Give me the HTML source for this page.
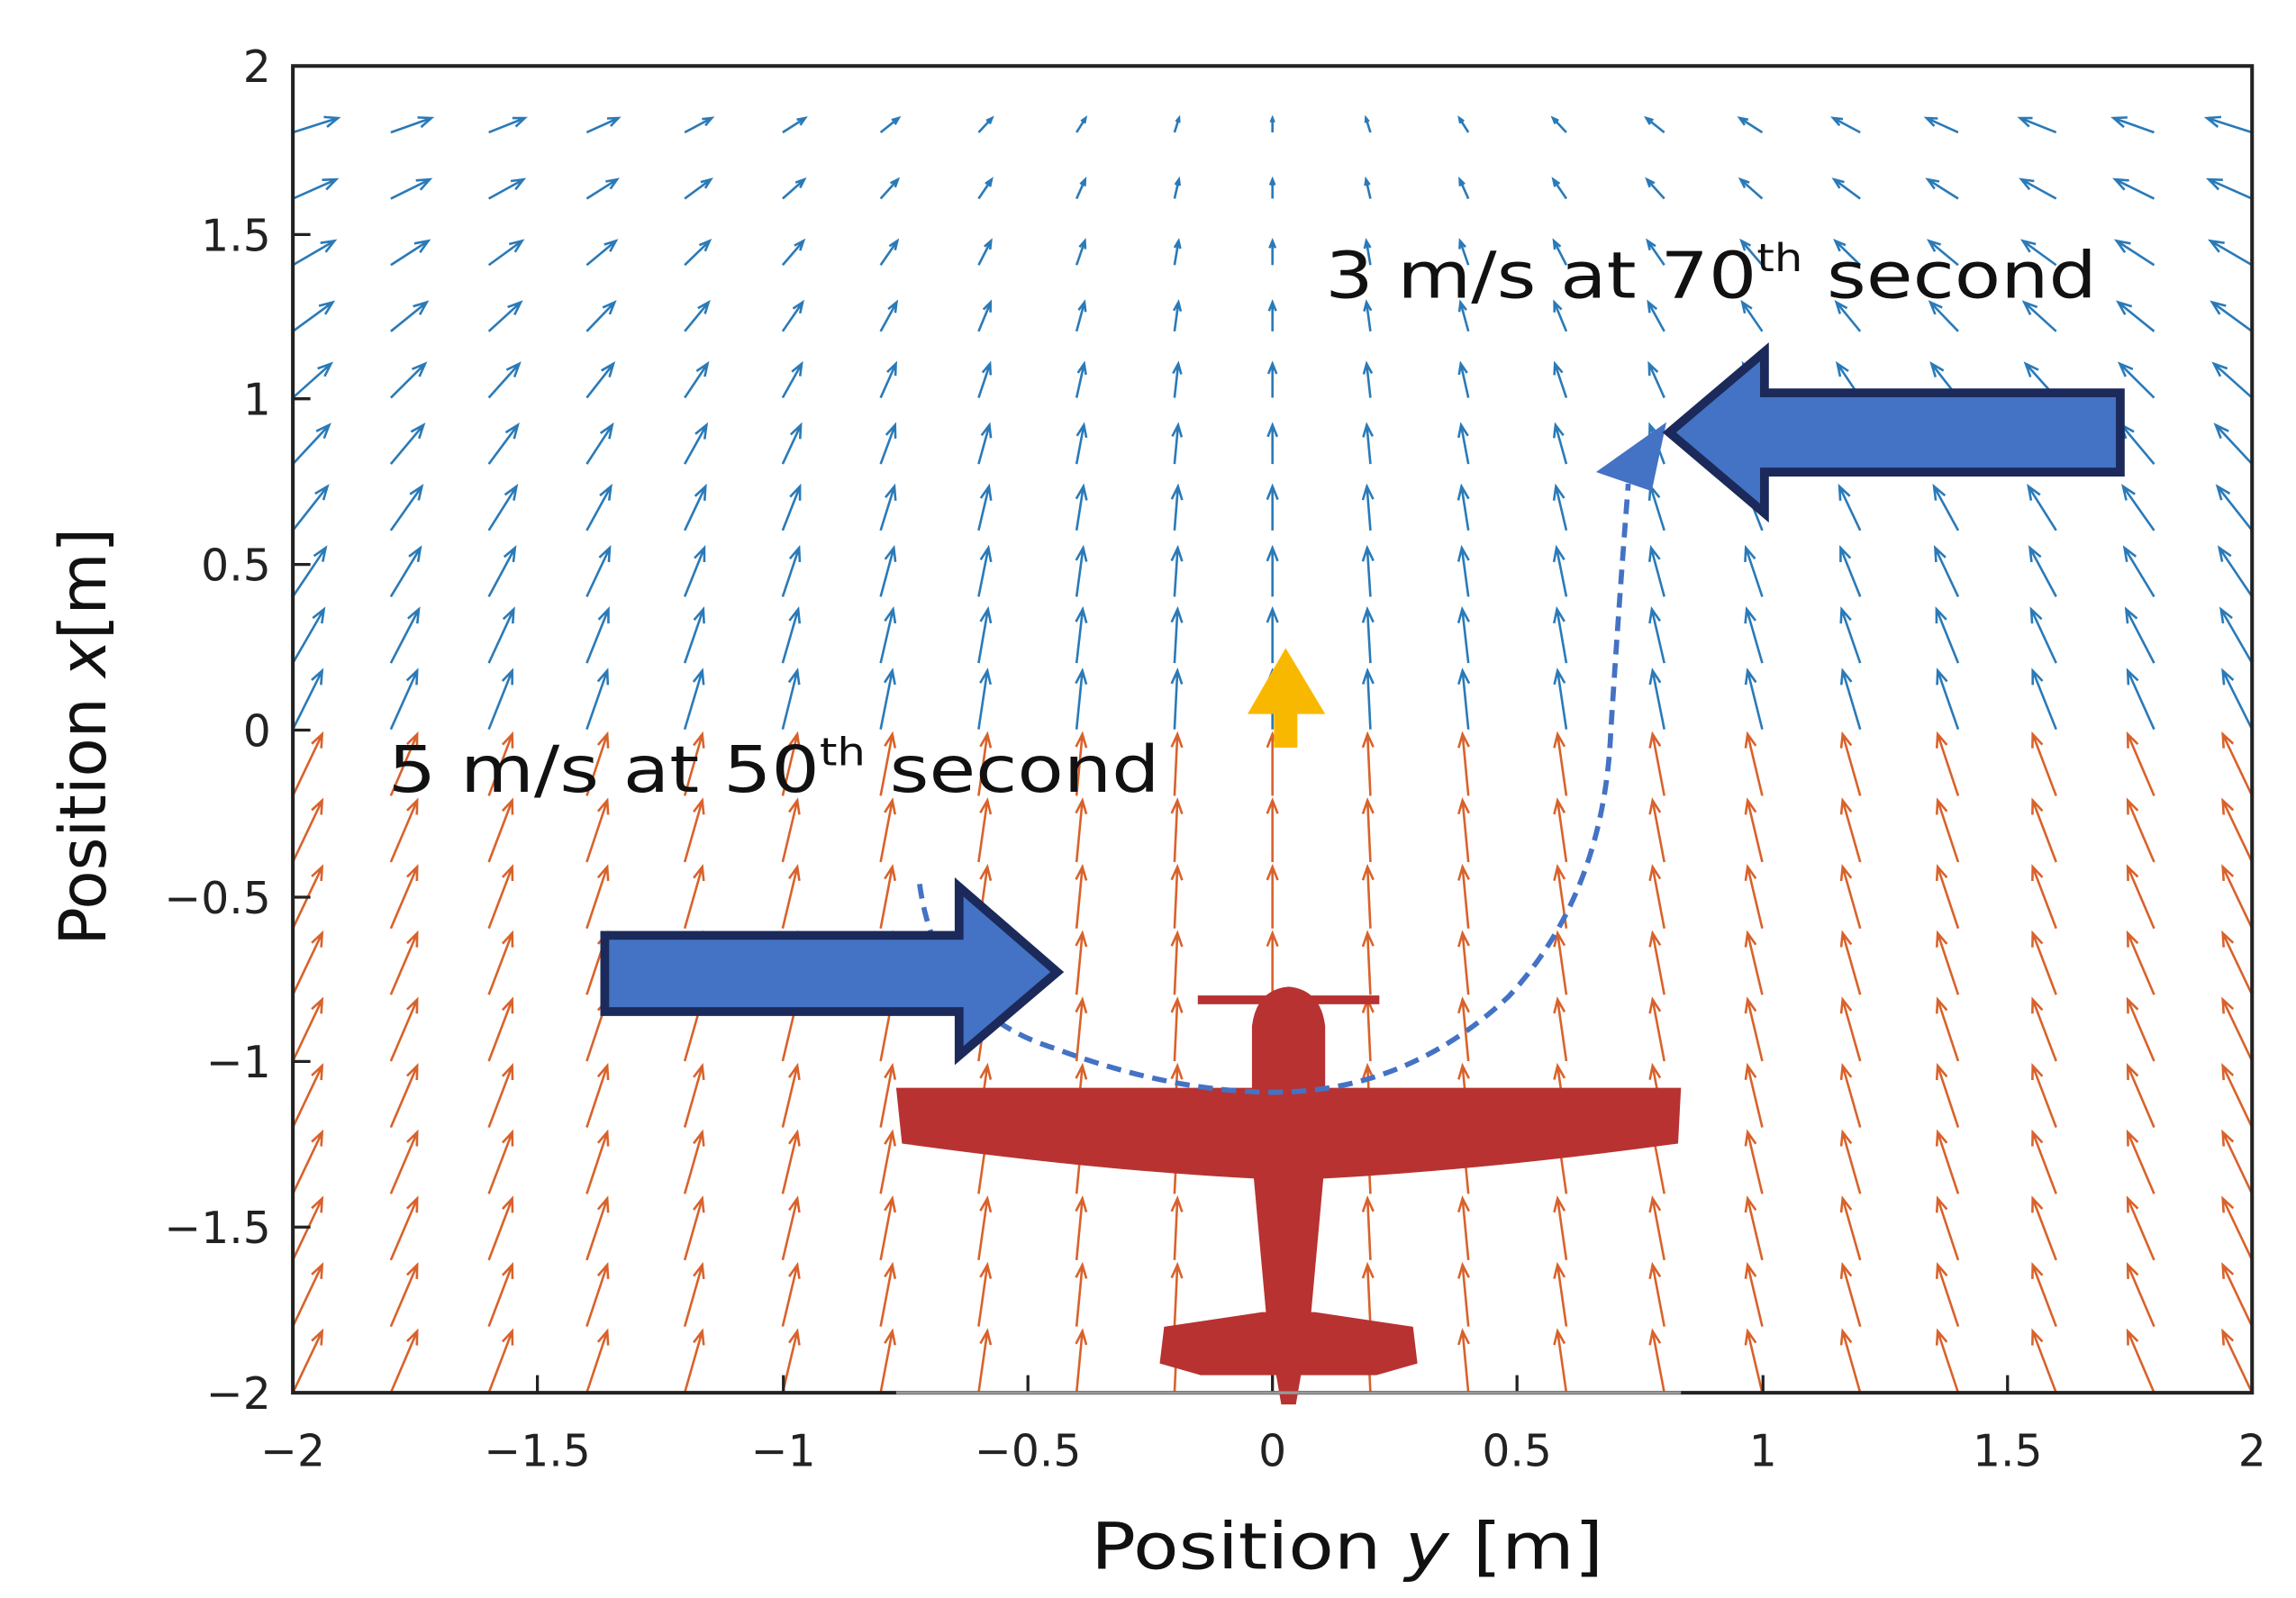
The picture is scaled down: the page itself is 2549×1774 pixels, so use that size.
<!DOCTYPE html>
<html><head><meta charset="utf-8"><style>
html,body{margin:0;padding:0;background:#fff;}
svg{display:block;}
text{font-family:"DejaVu Sans","Liberation Sans",sans-serif;}
</style></head><body>
<svg id="s" width="2549" height="1774" viewBox="0 0 1568 1090" preserveAspectRatio="none" xmlns="http://www.w3.org/2000/svg">
<rect width="1568" height="1090" fill="#fff"/>
<g id="q"></g>
<rect x="200" y="45" width="1338" height="905" fill="none" stroke="#222" stroke-width="2.5"/>
<g stroke="#222" stroke-width="2">
<line x1="200" y1="160" x2="212" y2="160"/><line x1="200" y1="272" x2="212" y2="272"/><line x1="200" y1="385" x2="212" y2="385"/><line x1="200" y1="498" x2="212" y2="498"/><line x1="200" y1="612" x2="212" y2="612"/><line x1="200" y1="724" x2="212" y2="724"/><line x1="200" y1="837" x2="212" y2="837"/>
<line x1="367" y1="950" x2="367" y2="938"/><line x1="535" y1="950" x2="535" y2="938"/><line x1="702" y1="950" x2="702" y2="938"/><line x1="869" y1="950" x2="869" y2="938"/><line x1="1036" y1="950" x2="1036" y2="938"/><line x1="1204" y1="950" x2="1204" y2="938"/><line x1="1371" y1="950" x2="1371" y2="938"/>
</g>
<g font-size="30" fill="#222" text-anchor="end" style="font-family:'Liberation Sans',sans-serif">
<text x="185" y="56">2</text><text x="185" y="171">1.5</text><text x="185" y="283">1</text><text x="185" y="396">0.5</text><text x="185" y="509">0</text><text x="185" y="623">−0.5</text><text x="185" y="735">−1</text><text x="185" y="848">−1.5</text><text x="185" y="961">−2</text>
</g>
<g font-size="30" fill="#222" text-anchor="middle" style="font-family:'Liberation Sans',sans-serif">
<text x="200" y="1000">−2</text><text x="367" y="1000">−1.5</text><text x="535" y="1000">−1</text><text x="702" y="1000">−0.5</text><text x="869" y="1000">0</text><text x="1036" y="1000">0.5</text><text x="1204" y="1000">1</text><text x="1371" y="1000">1.5</text><text x="1538" y="1000">2</text>
</g>
<text x="745" y="1070" font-size="44" fill="#111" textLength="350" lengthAdjust="spacingAndGlyphs">Position <tspan font-style="italic">y</tspan> [m]</text>
<text transform="translate(72,645) rotate(-90)" font-size="44" fill="#111" textLength="285" lengthAdjust="spacingAndGlyphs">Position <tspan font-style="italic">x</tspan>[m]</text>
<text x="905" y="203" font-size="44" fill="#111" textLength="527" lengthAdjust="spacingAndGlyphs">3 m/s at 70<tspan font-size="26" dy="-18">th</tspan><tspan dy="18"> second</tspan></text>
<text x="265" y="540" font-size="44" fill="#111" textLength="527" lengthAdjust="spacingAndGlyphs">5 m/s at 50<tspan font-size="26" dy="-18">th</tspan><tspan dy="18"> second</tspan></text>
<g fill="#b83232">
<rect x="818" y="679" width="124" height="6"/>
<path d="M855,700 Q858,675 880,673 Q902,675 905,700 L905,745 L855,745 Z"/>
<path d="M612,742 L1148,742 L1146,780 Q1000,800 880,805 Q760,800 616,780 Z"/>
<path d="M855,790 L905,790 L895,900 L885,958 L875,958 L865,900 Z"/>
<path d="M795,905 L862,895 L898,895 L965,905 L968,930 L940,938 L820,938 L792,930 Z"/>
</g>
<line x1="612" y1="950" x2="1148" y2="950" stroke="#999" stroke-width="2"/>
<path d="M878,442 L905,487 L886,487 L886,510 L870,510 L870,487 L852,487 Z" fill="#f9b800"/>
<path d="M628,603 Q640,690 720,715 Q800,745 870,745 Q960,745 1030,680 Q1095,610 1100,500 Q1105,420 1112,330" fill="none" stroke="#4472c4" stroke-width="3.5" stroke-dasharray="10,6"/>
<path d="M1090,322 L1138,288 L1128,335 Z" fill="#4472c4"/>
<path d="M413,638 L655,638 L655,605 L722,663 L655,720 L655,690 L413,690 Z" fill="#4472c4" stroke="#1b2a5a" stroke-width="6" stroke-linejoin="miter"/>
<path d="M1140,295 L1205,240 L1205,268 L1448,268 L1448,322 L1205,322 L1205,350 Z" fill="#4472c4" stroke="#1b2a5a" stroke-width="6" stroke-linejoin="miter"/>
</svg>
<script>
(function(){
var g=document.getElementById('q'),h='';
for(var i=0;i<=20;i++){for(var j=0;j<=19;j++){
var y=-2+0.2*i, x=-2+0.2*j;
var px=200+i*66.9, py=950-j*45.25;
var up,rt,col;
if(x>=-0.01){up=40*(1-0.42*x);rt=-y*(10+3*x);col='#2a7ab8';}
else{up=42;rt=-y*10;col='#d9622b';}
var ex=px+rt, ey=py-up;
var L=Math.sqrt(rt*rt+up*up); if(L<1)continue;
var ux=rt/L, uy=-up/L, a=Math.min(9,L*0.3);
var bx=ex-ux*a, by=ey-uy*a, nx=-uy*a*0.4, ny=ux*a*0.4;
h+='<path d="M'+px.toFixed(1)+','+py.toFixed(1)+'L'+ex.toFixed(1)+','+ey.toFixed(1)+'M'+(bx+nx).toFixed(1)+','+(by+ny).toFixed(1)+'L'+ex.toFixed(1)+','+ey.toFixed(1)+'L'+(bx-nx).toFixed(1)+','+(by-ny).toFixed(1)+'" stroke="'+col+'" stroke-width="1.6" fill="none"/>';
}}
g.innerHTML=h;
})();
</script>
</body></html>
